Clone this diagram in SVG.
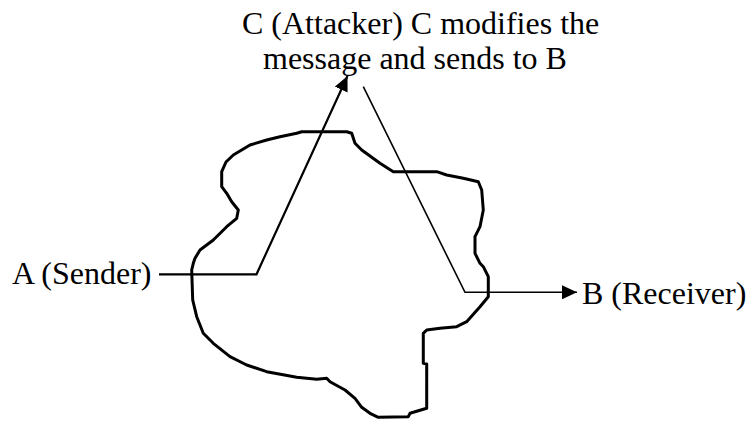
<svg xmlns="http://www.w3.org/2000/svg" width="751" height="423" viewBox="0 0 751 423">
  <style>
    .label { font-family: "Liberation Serif", "Times New Roman", serif; font-size: 32px; fill: #000; }
    .cloud { fill: none; stroke: #000; stroke-width: 3; stroke-linejoin: round; }
    .link { fill: none; stroke: #000; stroke-linejoin: miter; }
  </style>
  <defs>
    <marker id="head" markerUnits="userSpaceOnUse" markerWidth="16" markerHeight="14" refX="15" refY="7" orient="auto">
      <path d="M0,0 L15,7 L0,14 Z" fill="#000"/>
    </marker>
  </defs>

  <!-- network cloud -->
  <g id="network">
    <polygon class="cloud" points="301.7,131.7 346.7,131.7 351.7,133.3 355,143.3 361.7,150 380,163.3 393.3,171.7 436.7,171.7 446.7,175 463.3,178.3 478.3,181.7 481.7,190 483.3,210 480,226.7 475,236.7 475,253.3 480,263.3 483.3,266.7 488.3,276.7 488.3,296.7 480,306.7 466.7,321.7 456.7,326.7 440,328.3 426.7,330 423.3,333.3 423.3,363.3 426.7,364 426.7,408.3 410,413.3 408.3,416.7 378.3,417.3 370,413.3 361.7,407.3 355,398.3 345,390 330,381.7 326.7,378.3 316.7,379.3 296.7,377.3 266.7,371.7 246.7,365 230,356.7 213.3,343.3 203.3,333.3 196.7,316.7 192.7,300 191.7,270 193.3,263.3 195,258.3 200,250 213.3,240 226.7,226.7 236.7,218.3 238.3,210 231.7,201.7 226.7,193.3 221.7,186.7 221.7,171.7 226,162 233.3,155 250,145 266.7,140 280,136.7 296.7,133.3"/>
  </g>

  <!-- sender -->
  <g id="sender">
    <text class="label" x="12" y="283.5">A (Sender)</text>
  </g>

  <!-- attacker -->
  <g id="attacker">
    <text class="label" x="242" y="34">C (Attacker) C modifies the</text>
    <text class="label" x="263" y="68.5">message and sends to B</text>
  </g>

  <!-- receiver -->
  <g id="receiver">
    <text class="label" x="582" y="303.5">B (Receiver)</text>
  </g>

  <!-- message paths -->
  <g id="connectors">
    <polyline class="link" stroke-width="2.2" points="159,274.3 256.5,274.3 347.5,76" marker-end="url(#head)"/>
    <polyline class="link" stroke-width="1.6" points="363.3,86.7 465,292.3 577,292.3" marker-end="url(#head)"/>
  </g>
</svg>
